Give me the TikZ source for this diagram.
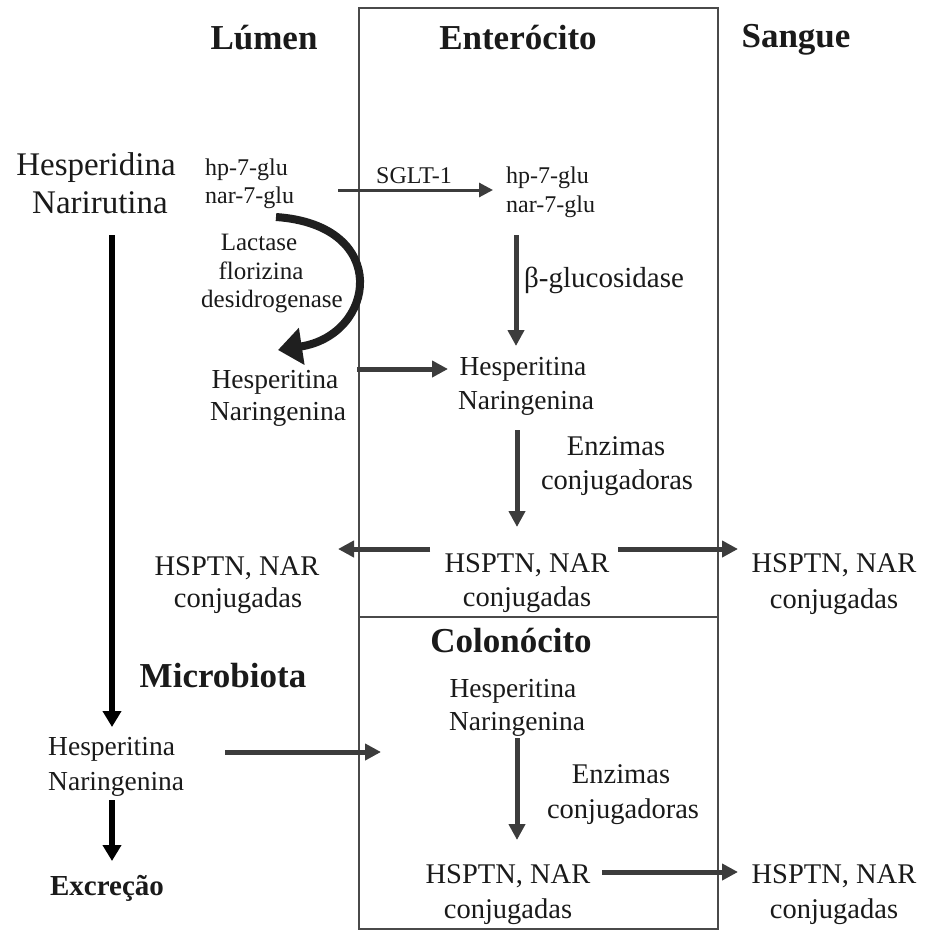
\documentclass[tikz,border=0pt]{standalone}
\usepackage{fontspec}
\setmainfont{Liberation Serif}
\usetikzlibrary{arrows.meta}
\definecolor{ink}{HTML}{1A1A1A}
\definecolor{arrgray}{HTML}{3C3C3C}
\definecolor{boxgray}{HTML}{4A4A4A}
\begin{document}
\begin{tikzpicture}[x=1pt,y=-1pt,
  txt/.style={inner sep=0pt, anchor=base, text=ink},
  txtl/.style={inner sep=0pt, anchor=base west, text=ink},
  head/.style={txt, font=\bfseries\fontsize{35}{40}\selectfont},
  big/.style={font=\fontsize{33}{38}\selectfont},
  mid/.style={font=\fontsize{28.5}{33}\selectfont},
  med/.style={font=\fontsize{27.5}{32}\selectfont},
  sml/.style={font=\fontsize{24}{28}\selectfont},
  enz/.style={font=\fontsize{25}{29}\selectfont},
  blkarrow/.style={draw=black, line width=6pt, -{Triangle[length=16pt,width=18pt]}},
  grayarrow/.style={draw=arrgray, line width=5pt, -{Triangle[length=16pt,width=16pt]}},
  thinarrow/.style={draw=arrgray, line width=3pt, -{Triangle[length=14pt,width=14pt]}},
  curvearrow/.style={draw=black!88, line width=8pt, -{Triangle[length=24pt,width=36pt]}}
]
\useasboundingbox (0,0) rectangle (929,932);
\fill[white] (0,0) rectangle (929,932);

% compartments
\draw[boxgray, line width=2pt] (359,8) rectangle (718,929);
\draw[boxgray, line width=2pt] (359,617) -- (718,617);

% headings
\node[head] (lumen) at (264,49) {Lúmen};
\node[head] (entero) at (518,49) {Enterócito};
\node[head] (sangue) at (796,47) {Sangue};
\node[head] (colono) at (511,652) {Colonócito};
\node[head] (microb) at (223,687) {Microbiota};
\node[txt, font=\bfseries\fontsize{29}{34}\selectfont] (excr) at (107,895) {Excreção};

% lumen
\node[txt, big] (hespd) at (96,175) {Hesperidina};
\node[txt, big] (narir) at (100,213) {Narirutina};
\node[txtl, sml] (hpL) at (205,175) {hp-7-glu};
\node[txtl, sml] (narL) at (205,203) {nar-7-glu};
\node[txt, enz] (lact) at (259,250) {Lactase};
\node[txt, enz] (floriz) at (261,279) {florizina};
\node[txt, enz] (desid) at (272,307) {desidrogenase};
\node[txt, med] (hespL) at (275,388) {Hesperitina};
\node[txt, med] (naringL) at (278,420) {Naringenina};
\node[txt, mid] (hsptnL) at (237,575) {HSPTN, NAR};
\node[txt, mid] (conjL) at (238,607) {conjugadas};
\node[txtl, med] (hespM) at (48,755) {Hesperitina};
\node[txtl, med] (naringM) at (48,790) {Naringenina};

% enterocito
\node[txt, sml] (sglt) at (414,183) {SGLT-1};
\node[txtl, sml] (hpE) at (506,183) {hp-7-glu};
\node[txtl, sml] (narE) at (506,212) {nar-7-glu};
\node[txtl, font=\fontsize{29}{34}\selectfont] (bglu) at (524,287) {β-glucosidase};
\node[txt, med] (hespE) at (523,375) {Hesperitina};
\node[txt, med] (naringE) at (526,409) {Naringenina};
\node[txt, mid] (enzE) at (616,455) {Enzimas};
\node[txt, mid] (conjgE) at (617,489) {conjugadoras};
\node[txt, mid] (hsptnE) at (527,572) {HSPTN, NAR};
\node[txt, mid] (conjE) at (527,606) {conjugadas};

% colonocito
\node[txt, med] (hespC) at (513,697) {Hesperitina};
\node[txt, med] (naringC) at (517,730) {Naringenina};
\node[txt, mid] (enzC) at (621,783) {Enzimas};
\node[txt, mid] (conjgC) at (623,818) {conjugadoras};
\node[txt, mid] (hsptnC) at (508,883) {HSPTN, NAR};
\node[txt, mid] (conjC) at (508,918) {conjugadas};

% sangue
\node[txt, mid] (hsptnS1) at (834,572) {HSPTN, NAR};
\node[txt, mid] (conjS1) at (834,608) {conjugadas};
\node[txt, mid] (hsptnS2) at (834,883) {HSPTN, NAR};
\node[txt, mid] (conjS2) at (834,918) {conjugadas};

% arrow end points
\coordinate (a1s) at (112,235); \coordinate (a1e) at (112,727);
\coordinate (a2s) at (112,800); \coordinate (a2e) at (112,861);
\coordinate (a3s) at (225,752); \coordinate (a3e) at (381,752);
\coordinate (a4s) at (430,549); \coordinate (a4e) at (338,549);
\coordinate (a5s) at (618,549); \coordinate (a5e) at (738,549);
\coordinate (a6s) at (602,872); \coordinate (a6e) at (738,872);
\coordinate (a7s) at (516,235); \coordinate (a7e) at (516,346);
\coordinate (a8s) at (517,430); \coordinate (a8e) at (517,527);
\coordinate (a9s) at (517,738); \coordinate (a9e) at (517,840);
\coordinate (a10s) at (357,369); \coordinate (a10e) at (448,369);
\coordinate (a11s) at (338,190); \coordinate (a11e) at (493,190);
\coordinate (a12s) at (276,217); \coordinate (a12e) at (278,350);

\draw[blkarrow] (a1s) -- (a1e);
\draw[blkarrow] (a2s) -- (a2e);
\draw[grayarrow] (a3s) -- (a3e);
\draw[grayarrow] (a4s) -- (a4e);
\draw[grayarrow] (a5s) -- (a5e);
\draw[grayarrow] (a6s) -- (a6e);
\draw[grayarrow] (a7s) -- (a7e);
\draw[grayarrow] (a8s) -- (a8e);
\draw[grayarrow] (a9s) -- (a9e);
\draw[grayarrow] (a10s) -- (a10e);
\draw[thinarrow] (a11s) -- (a11e);
\draw[curvearrow] (a12s) .. controls (392,225) and (376,335) .. (a12e);
\end{tikzpicture}
\end{document}
